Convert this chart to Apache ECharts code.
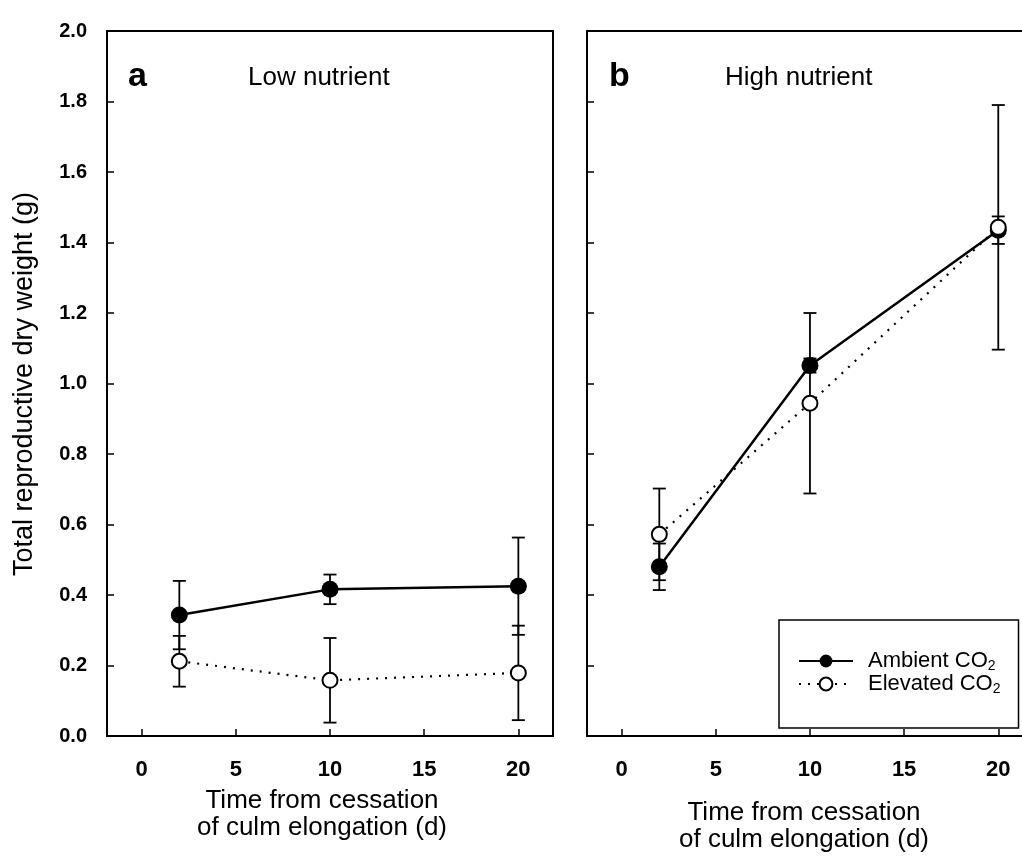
<!DOCTYPE html>
<html>
<head>
<meta charset="utf-8">
<script src="https://cdn.jsdelivr.net/npm/echarts@6/dist/echarts.min.js"></script>
<style>html,body{margin:0;padding:0;background:#fff}#main{width:1022px;height:862px}</style>
</head>
<body>
<div id="main"></div>
<script>
// ---- data ----
const days = [2, 10, 20];
const xTickValues = [0, 5, 10, 15, 20];
const yTickValues = [0, 0.2, 0.4, 0.6, 0.8, 1.0, 1.2, 1.4, 1.6, 1.8, 2.0];

const lowAmbient = [0.343, 0.416, 0.425];
const lowAmbientErr = [0.097, 0.042, 0.138];
const lowElevated = [0.212, 0.158, 0.179];
const lowElevatedErr = [0.072, 0.120, 0.134];

const highAmbient = [0.480, 1.051, 1.435];
const highAmbientErr = [0.066, 0.020, 0.039];
const highElevated = [0.572, 0.944, 1.443];
const highElevatedErr = [0.130, 0.256, 0.347];

const panelLetters = ['a', 'b'];
const panelTitles = ['Low nutrient', 'High nutrient'];
const seriesNames = ['Ambient CO2', 'Elevated CO2'];
const yAxisTitle = 'Total reproductive dry weight (g)';
const xAxisTitle = 'Time from cessation\nof culm elongation (d)';

// ---- build ----
const FONT = '"Liberation Sans", Arial, Helvetica, sans-serif';
const pts = (xs, ys) => xs.map((x, i) => [x, ys[i]]);
const errPts = (xs, ys, es) => xs.map((x, i) => [x, ys[i], es[i]]);

function renderErr(params, api) {
  const x = api.value(0), y = api.value(1), e = api.value(2);
  const top = api.coord([x, y + e]);
  const bot = api.coord([x, y - e]);
  const hw = 6.5;
  const style = { stroke: '#000', lineWidth: 1.8, fill: null };
  return {
    type: 'group',
    children: [
      { type: 'line', shape: { x1: top[0], y1: top[1], x2: bot[0], y2: bot[1] }, style },
      { type: 'line', shape: { x1: top[0] - hw, y1: top[1], x2: top[0] + hw, y2: top[1] }, style },
      { type: 'line', shape: { x1: bot[0] - hw, y1: bot[1], x2: bot[0] + hw, y2: bot[1] }, style }
    ]
  };
}

function xAxisFor(gi, max) {
  return {
    type: 'value', gridIndex: gi, min: -1.84, max: max,
    axisLine: { show: true, onZero: false, lineStyle: { color: '#000', width: 2 } },
    axisTick: { show: true, inside: true, length: 7, customValues: xTickValues, lineStyle: { color: '#000', width: 1.5 } },
    axisLabel: { show: true, customValues: xTickValues, margin: 23, color: '#000', fontSize: 22, fontWeight: 'bold', fontFamily: FONT },
    splitLine: { show: false }
  };
}
function topLineAxis(gi, max) {
  return {
    type: 'value', gridIndex: gi, position: 'top', min: -1.84, max: max,
    axisLine: { show: true, onZero: false, lineStyle: { color: '#000', width: 2 } },
    axisTick: { show: false }, axisLabel: { show: false }, splitLine: { show: false }
  };
}
function yAxisFor(gi, labels) {
  return {
    type: 'value', gridIndex: gi, min: 0, max: 2,
    axisLine: { show: true, onZero: false, lineStyle: { color: '#000', width: 2 } },
    axisTick: { show: true, inside: true, length: 7, customValues: yTickValues, lineStyle: { color: '#000', width: 1.5 } },
    axisLabel: { show: labels, customValues: yTickValues, margin: 20, color: '#000', fontSize: 20, fontWeight: 'bold', fontFamily: FONT,
      formatter: v => v.toFixed(1) },
    splitLine: { show: false }
  };
}

function errSeries(name, gi, xs, ys, es) {
  return {
    name, type: 'custom', xAxisIndex: gi, yAxisIndex: gi, z: 1,
    renderItem: renderErr, encode: { x: 0, y: 1 },
    data: errPts(xs, ys, es), silent: true
  };
}
function ambientSeries(gi, ys) {
  return {
    name: seriesNames[0], type: 'line', xAxisIndex: gi, yAxisIndex: gi, z: 3,
    data: pts(days, ys), symbol: 'circle', symbolSize: 17,
    itemStyle: { color: '#000' },
    lineStyle: { color: '#000', width: 2.5, type: 'solid' }
  };
}
function elevatedSeries(gi, ys) {
  return {
    name: seriesNames[1], type: 'line', xAxisIndex: gi, yAxisIndex: gi, z: 4,
    data: pts(days, ys), symbol: 'circle', symbolSize: 15,
    itemStyle: { color: '#fff', borderColor: '#000', borderWidth: 2 },
    lineStyle: { color: '#000', width: 2.2, type: [2, 7] }
  };
}

const textEl = (x, y, text, size, weight) => ({
  type: 'text', x, y,
  style: { text, fill: '#000', font: `${weight} ${size}px ${FONT}`, textAlign: 'left', textVerticalAlign: 'middle' }
});

const option = {
  animation: false,
  backgroundColor: '#fff',
  grid: [
    { left: 107, top: 31, width: 446, height: 705, show: true, borderColor: '#000', borderWidth: 2, backgroundColor: 'transparent' },
    { left: 587, top: 31, right: 0, height: 705, show: false }
  ],
  xAxis: [xAxisFor(0, 21.84), xAxisFor(1, 21.26), topLineAxis(1, 21.26)],
  yAxis: [yAxisFor(0, true), yAxisFor(1, false)],
  legend: {
    data: seriesNames,
    orient: 'vertical', left: 779, top: 620,
    padding: [30, 18, 32, 19], itemGap: 0, itemWidth: 54, itemHeight: 16,
    borderColor: '#000', borderWidth: 1.5, backgroundColor: '#fff',
    textStyle: { fontFamily: FONT, fontSize: 22, color: '#000', lineHeight: 20, padding: [0, 0, 0, 10],
      rich: { s: { fontFamily: FONT, fontSize: 14, color: '#000', padding: [10, 0, 0, 0] } } },
    formatter: n => n.replace('CO2', 'CO{s|2}')
  },
  graphic: [
    textEl(128, 77, panelLetters[0], 34, 'bold'),
    textEl(248, 78, panelTitles[0], 26, 'normal'),
    textEl(609, 77, panelLetters[1], 34, 'bold'),
    textEl(725, 78, panelTitles[1], 26, 'normal'),
    { type: 'text', x: 25, y: 384, rotation: Math.PI / 2,
      style: { text: yAxisTitle, fill: '#000', font: `normal 27px ${FONT}`, textAlign: 'center', textVerticalAlign: 'middle' } },
    { type: 'text', x: 322, y: 814,
      style: { text: xAxisTitle, fill: '#000', font: `normal 26px ${FONT}`, textAlign: 'center', textVerticalAlign: 'middle', lineHeight: 27 } },
    { type: 'text', x: 804, y: 826,
      style: { text: xAxisTitle, fill: '#000', font: `normal 26px ${FONT}`, textAlign: 'center', textVerticalAlign: 'middle', lineHeight: 27 } }
  ],
  series: [
    errSeries('errLowA', 0, days, lowAmbient, lowAmbientErr),
    errSeries('errLowE', 0, days, lowElevated, lowElevatedErr),
    errSeries('errHighA', 1, days, highAmbient, highAmbientErr),
    errSeries('errHighE', 1, days, highElevated, highElevatedErr),
    ambientSeries(0, lowAmbient),
    elevatedSeries(0, lowElevated),
    ambientSeries(1, highAmbient),
    elevatedSeries(1, highElevated)
  ]
};

const chart = echarts.init(document.getElementById('main'), null, { renderer: 'canvas' });
chart.setOption(option);
</script>
</body>
</html>
